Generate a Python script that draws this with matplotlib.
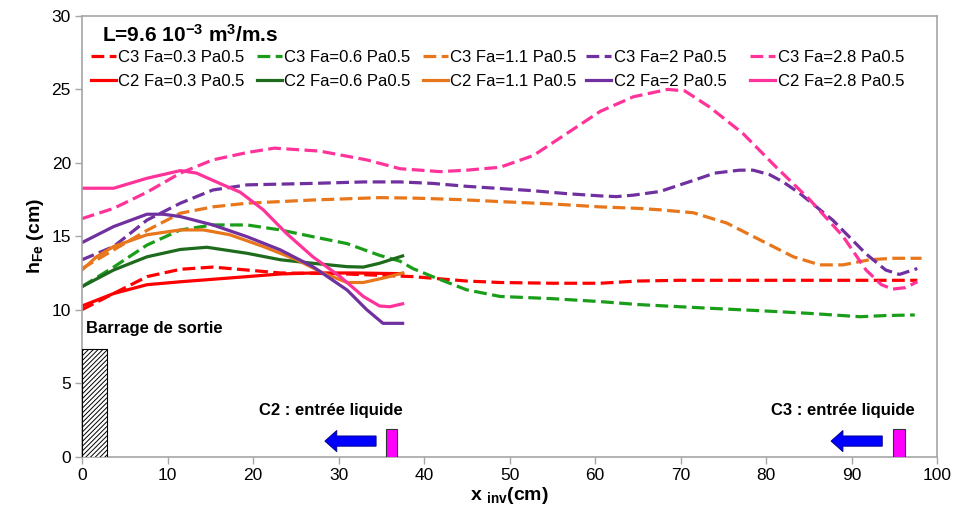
import matplotlib
matplotlib.use("Agg")
import matplotlib.pyplot as plt
from matplotlib.patches import Rectangle, FancyArrow

plt.rcParams['font.family'] = ['Liberation Sans', 'DejaVu Sans']
plt.rcParams['mathtext.fontset'] = 'custom'
plt.rcParams['mathtext.rm'] = 'Liberation Sans'
plt.rcParams['mathtext.bf'] = 'Liberation Sans:bold'
plt.rcParams['mathtext.it'] = 'Liberation Sans:italic'
plt.rcParams['hatch.color'] = '#333333'
plt.rcParams['hatch.linewidth'] = 0.7

# ---------------- data ----------------
# C3 series (dashed)
c3_03_x = [0, 3.7, 7.6, 11.5, 15.3, 19.3, 23.2, 30, 38.7, 45, 48.9, 55, 60.6, 65, 69.9, 75, 80, 85, 90, 95, 97.7]
c3_03_y = [10.0, 11.1, 12.25, 12.75, 12.9, 12.7, 12.5, 12.45, 12.25, 11.95, 11.85, 11.8, 11.8, 11.95, 12.0, 12.0, 12.0, 12.0, 12.0, 12.0, 12.0]

c3_06_x = [0, 3.7, 7.6, 11.5, 15.3, 19.3, 23.2, 27, 31, 34.8, 37.2, 38.7, 41, 45, 48.9, 55, 60.6, 65, 69.9, 75, 79.3, 85, 91, 94, 97.4]
c3_06_y = [11.57, 12.9, 14.4, 15.43, 15.77, 15.77, 15.43, 14.97, 14.5, 13.7, 13.3, 12.8, 12.25, 11.35, 10.9, 10.75, 10.55, 10.35, 10.2, 10.05, 9.93, 9.75, 9.52, 9.6, 9.64]

c3_11_x = [0, 3.7, 7.6, 11.5, 15.3, 19.3, 27, 34.8, 38.7, 44, 48.9, 55, 60.6, 65, 67.6, 71.5, 75.4, 79.3, 83.2, 86.3, 89, 92.1, 94.8, 98.2]
c3_11_y = [12.8, 14.07, 15.4, 16.57, 17.0, 17.25, 17.47, 17.63, 17.6, 17.5, 17.36, 17.2, 17.0, 16.9, 16.8, 16.6, 15.9, 14.75, 13.6, 13.05, 13.05, 13.4, 13.5, 13.5]

c3_20_x = [0, 3.7, 7.6, 11.5, 15.3, 19.3, 27, 33, 37.2, 41, 45, 48.9, 52.8, 56.7, 60.6, 62.5, 64.5, 67.6, 71.5, 74, 76.9, 78.5, 80.4, 82, 84, 87.8, 91.7, 94, 95.6, 97.7]
c3_20_y = [13.4, 14.3, 16.1, 17.25, 18.15, 18.5, 18.6, 18.7, 18.7, 18.6, 18.4, 18.25, 18.1, 17.9, 17.75, 17.7, 17.8, 18.05, 18.8, 19.3, 19.5, 19.5, 19.2, 18.7, 17.9, 16.1, 13.8, 12.7, 12.4, 12.8]

c3_28_x = [0, 3.7, 7.6, 11.5, 15.3, 19.3, 22.5, 27.8, 33.3, 37.2, 41.9, 45, 48.9, 52.8, 56.7, 60.6, 64.5, 68.5, 70.5, 73.4, 77.3, 81.2, 85.1, 89, 91.7, 93.5, 94.8, 96.3, 97.7]
c3_28_y = [16.2, 16.9, 18.0, 19.3, 20.2, 20.7, 21.0, 20.8, 20.2, 19.6, 19.4, 19.5, 19.7, 20.5, 22.0, 23.5, 24.5, 25.0, 24.9, 23.8, 22.0, 19.7, 17.5, 15.0, 12.7, 11.7, 11.4, 11.5, 11.9]

# C2 series (solid)
c2_03_x = [0, 3.7, 7.6, 11.5, 15.3, 19.3, 23.2, 27, 32, 37.5]
c2_03_y = [10.25, 11.1, 11.7, 11.9, 12.07, 12.25, 12.43, 12.5, 12.5, 12.45]

c2_06_x = [0, 3.7, 7.6, 11.5, 14.6, 19.3, 23.2, 27, 31, 32.9, 34.8, 37.5]
c2_06_y = [11.57, 12.7, 13.6, 14.1, 14.25, 13.84, 13.4, 13.16, 12.93, 12.9, 13.16, 13.66]

c2_11_x = [0, 1.7, 3.7, 7.6, 11.5, 14.2, 17.3, 21.2, 25.1, 28.2, 31, 32.9, 35.6, 37.5]
c2_11_y = [12.7, 13.6, 14.3, 15.1, 15.43, 15.43, 15.1, 14.3, 13.4, 12.5, 11.85, 11.85, 12.2, 12.5]

c2_20_x = [0, 3.7, 7.6, 9.5, 11.5, 15.3, 19.3, 23.2, 27, 31, 33.3, 35.2, 37.5]
c2_20_y = [14.57, 15.66, 16.5, 16.5, 16.34, 15.77, 14.97, 14.07, 12.93, 11.34, 10.0, 9.07, 9.07]

c2_28_x = [0, 3.7, 7.6, 11.5, 13.4, 16.1, 18.5, 21.2, 23.9, 27, 30.2, 32.9, 34.8, 36, 37.5]
c2_28_y = [18.27, 18.27, 18.95, 19.47, 19.3, 18.6, 18.0, 16.8, 15.2, 13.6, 12.25, 10.9, 10.25, 10.2, 10.4]

fa_labels = ['0.3', '0.6', '1.1', '2', '2.8']
colors_c3 = ['#FF0000', '#1A9E1A', '#E8761B', '#7030A0', '#FF3399']
colors_c2 = ['#FF0000', '#1E6B1E', '#E8761B', '#7030A0', '#FF3399']

c3_series = [(c3_03_x, c3_03_y), (c3_06_x, c3_06_y), (c3_11_x, c3_11_y), (c3_20_x, c3_20_y), (c3_28_x, c3_28_y)]
c2_series = [(c2_03_x, c2_03_y), (c2_06_x, c2_06_y), (c2_11_x, c2_11_y), (c2_20_x, c2_20_y), (c2_28_x, c2_28_y)]

title_text = r'L=9.6 10$^{\mathbf{-3}}$ m$^{\mathbf{3}}$/m.s'
xticks = list(range(0, 101, 10))
yticks = list(range(0, 31, 5))

# annotation geometry
barrage = dict(x0=0, w=2.9, h=7.3)
inlets = [dict(name='C2 : entrée liquide', rect_x=35.5, arrow_x=34.4, text_x=37.5),
          dict(name='C3 : entrée liquide', rect_x=94.8, arrow_x=93.6, text_x=97.4)]

# ---------------- figure ----------------
fig = plt.figure(figsize=(9.58, 5.11), dpi=100)
ax = fig.add_axes([82 / 958, 1 - 456.5 / 511, 855 / 958, 440.5 / 511])

lw = 2.3
c3_lines = []
c2_lines = []
for (x, y), col, fa in zip(c3_series, colors_c3, fa_labels):
    l, = ax.plot(x, y, color=col, lw=lw, dashes=(4.0, 1.7), solid_capstyle='butt',
                 dash_joinstyle='round', label=f'C3 Fa={fa} Pa0.5')
    c3_lines.append(l)
for (x, y), col, fa in zip(c2_series, colors_c2, fa_labels):
    l, = ax.plot(x, y, color=col, lw=lw, solid_joinstyle='round', label=f'C2 Fa={fa} Pa0.5')
    c2_lines.append(l)

ax.set_xlim(0, 100)
ax.set_ylim(0, 30)
ax.set_xticks(xticks)
ax.set_yticks(yticks)
ax.tick_params(direction='out', length=5, width=1, color='#a6a6a6', labelsize=12.5, pad=3)
for s in ax.spines.values():
    s.set_color('#a6a6a6')
    s.set_linewidth(1.2)

ax.set_ylabel(r'h$_{\mathbf{Fe}}$ (cm)', fontsize=14, fontweight='bold', labelpad=4)
ax.set_xlabel(r'x $_{\mathbf{inv}}$(cm)', fontsize=14, fontweight='bold', labelpad=2)

ax.text(0.0234, 0.957, title_text, transform=ax.transAxes, fontsize=15, fontweight='bold',
        ha='left', va='center')

# legends: five equal-width columns
col_px = [91, 257, 423, 586, 750]
for i, px in enumerate(col_px):
    fig.legend(handles=[c3_lines[i], c2_lines[i]], loc='upper left',
               bbox_to_anchor=(px / 958, 1 - 50 / 511), bbox_transform=fig.transFigure,
               frameon=False, fontsize=12, handlelength=1.5, handletextpad=0.15,
               borderpad=0, borderaxespad=0, labelspacing=0.55)

# barrage
ax.add_patch(Rectangle((barrage['x0'], 0), barrage['w'], barrage['h'], facecolor='white',
                       edgecolor='black', hatch='///////', lw=0.8, zorder=3))
ax.text(0.5, 8.75, 'Barrage de sortie', fontsize=12, fontweight='bold', ha='left', va='center')

for inl in inlets:
    ax.add_patch(Rectangle((inl['rect_x'], 0), 1.4, 1.87, facecolor='#FF00FF',
                           edgecolor='#333333', lw=0.8, zorder=3))
    ax.add_patch(FancyArrow(inl['arrow_x'], 1.05, -4.6, 0, width=0.7, head_width=1.45,
                            head_length=1.4, length_includes_head=False,
                            facecolor='#0000FF', edgecolor='#000080', lw=0.6, zorder=3))
    ax.text(inl['text_x'], 3.15, inl['name'], fontsize=12, fontweight='bold',
            ha='right', va='center')

fig.savefig('out.png', dpi=100)
